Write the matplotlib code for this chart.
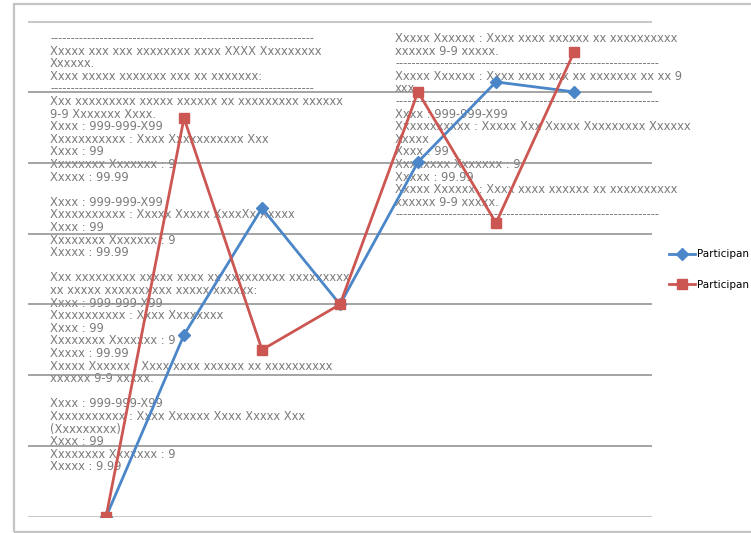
import matplotlib
matplotlib.use("Agg")
import matplotlib.pyplot as plt
from matplotlib.patches import Rectangle

# ------------------------------------------------
# Data
# ------------------------------------------------
categories = [1, 2, 3, 4, 5, 6, 7]
participant_1 = [0.0, 2.57, 4.36, 3.0, 5.01, 6.14, 6.0]
participant_2 = [0.0, 5.63, 2.36, 3.0, 6.0, 4.15, 6.56]
series_names = ["Participan", "Participan"]

dash_line = "-" * 64

left_notes = [
    dash_line,
    "Xxxxx xxx xxx xxxxxxxx xxxx XXXX Xxxxxxxxx",
    "Xxxxxx.",
    "Xxxx xxxxx xxxxxxx xxx xx xxxxxxx:",
    dash_line,
    "Xxx xxxxxxxxx xxxxx xxxxxx xx xxxxxxxxx xxxxxx",
    "9-9 Xxxxxxx Xxxx.",
    "Xxxx : 999-999-X99",
    "Xxxxxxxxxxx : Xxxx Xxxxxxxxxxx Xxx",
    "Xxxx : 99",
    "Xxxxxxxx Xxxxxxx : 9",
    "Xxxxx : 99.99",
    "",
    "Xxxx : 999-999-X99",
    "Xxxxxxxxxxx : Xxxxx Xxxxx XxxxXx Xxxxx",
    "Xxxx : 99",
    "Xxxxxxxx Xxxxxxx : 9",
    "Xxxxx : 99.99",
    "",
    "Xxx xxxxxxxxx xxxxx xxxx xx xxxxxxxxx xxxxxxxxx",
    "xx xxxxx xxxxxxxxxx xxxxx xxxxxx:",
    "Xxxx : 999-999-X99",
    "Xxxxxxxxxxx : Xxxx Xxxxxxxx",
    "Xxxx : 99",
    "Xxxxxxxx Xxxxxxx : 9",
    "Xxxxx : 99.99",
    "Xxxxx Xxxxxx : Xxxx xxxx xxxxxx xx xxxxxxxxxx",
    "xxxxxx 9-9 xxxxx.",
    "",
    "Xxxx : 999-999-X99",
    "Xxxxxxxxxxx : Xxxx Xxxxxx Xxxx Xxxxx Xxx",
    "(Xxxxxxxxx)",
    "Xxxx : 99",
    "Xxxxxxxx Xxxxxxx : 9",
    "Xxxxx : 9.99",
]

right_notes = [
    "Xxxxx Xxxxxx : Xxxx xxxx xxxxxx xx xxxxxxxxxx",
    "xxxxxx 9-9 xxxxx.",
    dash_line,
    "Xxxxx Xxxxxx : Xxxx xxxx xxx xx xxxxxxx xx xx 9",
    "xxx",
    dash_line,
    "Xxxx : 999-999-X99",
    "Xxxxxxxxxxx : Xxxxx Xxx Xxxxx Xxxxxxxxx Xxxxxx",
    "Xxxxx",
    "Xxxx : 99",
    "Xxxxxxxx Xxxxxxx : 9",
    "Xxxxx : 99.99",
    "Xxxxx Xxxxxx : Xxxx xxxx xxxxxx xx xxxxxxxxxx",
    "xxxxxx 9-9 xxxxx.",
    dash_line,
]

# ------------------------------------------------
# Plot
# ------------------------------------------------
W, H = 751, 533
fig = plt.figure(figsize=(W / 100, H / 100), dpi=100)

# outer chart frame (runs off the right edge)
fig.patches.append(Rectangle((14 / W, 1 - 532 / H), 2.0, 528 / H,
                             transform=fig.transFigure, fill=False,
                             edgecolor="#c4c4c4", linewidth=1.6))

ax = fig.add_axes([28 / W, 16 / H, 624 / W, 496 / H])
ax.set_xlim(0, 8)
ax.set_ylim(0, 7)
for s in ax.spines.values():
    s.set_visible(False)
ax.set_xticks([])
ax.set_yticks([])

# horizontal gridlines
for yv in range(0, 8):
    if yv in (0, 7):
        ax.axhline(yv, color="#c8c8c8", linewidth=2.2, zorder=1)
    else:
        ax.axhline(yv, color="#8c8c8c", linewidth=1.1, zorder=1)

# placeholder text blocks, one line at a time (fixed line pitch in pixels)
def draw_notes(lines, x_px, y0_px, pitch=12.6):
    for i, line in enumerate(lines):
        if not line:
            continue
        ax.text(x_px / W, 1 - (y0_px + 4 + i * pitch) / H, line,
                transform=fig.transFigure, ha="left", va="baseline",
                fontsize=8.3, color="#7a7a7a", zorder=0.5,
                family="DejaVu Sans")

draw_notes(left_notes, 50, 38)
draw_notes(right_notes, 395, 38)

ax.plot(categories, participant_1, color="#4a86c8", linewidth=2.0,
        marker="D", markersize=6.0, label=series_names[0], zorder=3)
ax.plot(categories, participant_2, color="#cc5652", linewidth=2.0,
        marker="s", markersize=7.5, label=series_names[1], zorder=3)

ax.legend(loc="upper left", bbox_to_anchor=(664 / W, 1 - 244 / H),
          bbox_transform=fig.transFigure, frameon=False, borderpad=0,
          handlelength=2.5, handletextpad=0.15, labelspacing=1.95,
          prop={"family": ["Liberation Sans Narrow", "DejaVu Sans"], "size": 7.5})

fig.savefig("out.png", dpi=100)
